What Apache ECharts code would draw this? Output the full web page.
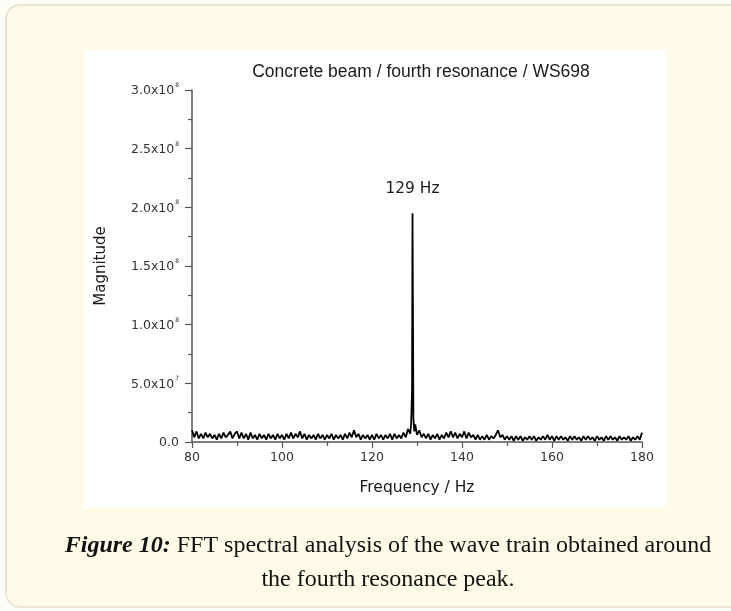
<!DOCTYPE html>
<html>
<head>
<meta charset="utf-8">
<script src="https://cdn.jsdelivr.net/npm/echarts@6/dist/echarts.min.js"></script>
<style>
html,body{margin:0;padding:0;background:#fdfdf8;}
#chart{width:731px;height:611px;}
</style>
</head>
<body>
<div id="chart"></div>
<script>
// ---- data ----
const chartTitle = 'Concrete beam / fourth resonance / WS698';
const xAxisName = 'Frequency / Hz';
const yAxisName = 'Magnitude';
const peakLabel = '129 Hz';
const captionBold = 'Figure 10:';
const captionLine1 = ' FFT spectral analysis of the wave train obtained around';
const captionLine2 = 'the fourth resonance peak.';
const xTicks = [80, 100, 120, 140, 160, 180];
const yTicks = [0, 5e7, 1e8, 1.5e8, 2e8, 2.5e8, 3e8];
const magUnit = 1e6; // magnitudes below are in units of 1e6

const freqHz = [
  80,80.5,81,81.5,82,82.5,83,83.5,84,84.5,
  85,85.5,86,86.5,87,87.5,88,88.5,89,89.5,
  90,90.5,91,91.5,92,92.5,93,93.5,94,94.5,
  95,95.5,96,96.5,97,97.5,98,98.5,99,99.5,
  100,100.5,101,101.5,102,102.5,103,103.5,104,104.5,
  105,105.5,106,106.5,107,107.5,108,108.5,109,109.5,
  110,110.5,111,111.5,112,112.5,113,113.5,114,114.5,
  115,115.5,116,116.5,117,117.5,118,118.5,119,119.5,
  120,120.5,121,121.5,122,122.5,123,123.5,124,124.5,
  125,125.5,126,126.5,127,127.5,128,128.5,128.7,128.9,
  129,129.1,129.2,129.4,129.6,130,130.5,131,131.5,132,
  132.5,133,133.5,134,134.5,135,135.5,136,136.5,137,
  137.5,138,138.5,139,139.5,140,140.5,141,141.5,142,
  142.5,143,143.5,144,144.5,145,145.5,146,146.5,147,
  147.5,148,148.5,149,149.5,150,150.5,151,151.5,152,
  152.5,153,153.5,154,154.5,155,155.5,156,156.5,157,
  157.5,158,158.5,159,159.5,160,160.5,161,161.5,162,
  162.5,163,163.5,164,164.5,165,165.5,166,166.5,167,
  167.5,168,168.5,169,169.5,170,170.5,171,171.5,172,
  172.5,173,173.5,174,174.5,175,175.5,176,176.5,177,
  177.5,178,178.5,179,179.5,180
];
const magnitudeM = [
  10,4,9,3,7,3,8,4,7,3,
  6,2,7,3,8,4,6,9,3,7,
  9,3,8,3,7,2,8,3,6,2,
  7,3,6,2,7,3,6,2,7,3,
  6,2,7,3,8,3,7,4,9,3,
  7,2,6,3,6,2,7,3,6,2,
  6,3,7,2,6,3,6,2,7,3,
  8,4,10,4,7,2,6,3,6,2,
  6,2,7,3,6,2,6,3,7,2,
  7,3,6,3,8,4,11,7,16,44,
  195,111,20,9,15,6,10,4,7,3,
  7,2,6,3,7,2,6,3,8,4,
  9,4,8,3,7,4,9,3,8,4,
  6,2,6,2,5,2,6,2,5,3,
  6,10,4,6,2,5,2,5,1,5,
  2,5,1,4,2,5,2,5,1,4,
  2,5,2,6,2,5,1,5,2,5,
  2,4,1,5,2,5,2,4,1,5,
  2,5,2,4,1,5,2,4,1,5,
  2,5,2,4,1,5,2,4,2,5,
  1,4,2,5,2,8
];

const seriesData = freqHz.map((f, i) => [f, magnitudeM[i] * magUnit]);

const chart = echarts.init(document.getElementById('chart'), null, {renderer: 'canvas'});
const sans = '"DejaVu Sans", Verdana, sans-serif';
const arial = '"Liberation Sans", Arial, sans-serif';
const serif = '"Liberation Serif", "Times New Roman", serif';

function yFmt(v) {
  if (v === 0) return '{m|0.0}';
  const e = Math.floor(Math.log10(v) + 1e-9);
  const m = v / Math.pow(10, e);
  return '{m|' + m.toFixed(1) + 'x10}{s|' + e + '}';
}

chart.setOption({
  backgroundColor: '#fdfdf8',
  animation: false,
  title: {
    text: chartTitle,
    left: 416, top: 58, textAlign: 'center',
    textStyle: {fontSize: 17.5, fontWeight: 'normal', color: '#1a1a1a', fontFamily: arial}
  },
  graphic: [
    {type: 'rect', z: -10, silent: true,
     shape: {x: 6, y: 5, width: 770, height: 602, r: 14},
     style: {fill: '#fffbe8', stroke: '#e8e5d5', lineWidth: 2}},
    {type: 'rect', z: -9, silent: true,
     shape: {x: 84, y: 50, width: 582, height: 457},
     style: {fill: '#ffffff'}},
    {type: 'text', x: 388, y: 558, silent: true,
     style: {text: '{b|' + captionBold + '}{n|' + captionLine1 + '}', textAlign: 'center', textVerticalAlign: 'bottom',
       rich: {
         b: {fontFamily: serif, fontSize: 24, fontWeight: 'bold', fontStyle: 'italic', fill: '#111'},
         n: {fontFamily: serif, fontSize: 24, fill: '#111'}
       }}},
    {type: 'text', x: 388, y: 592, silent: true,
     style: {text: captionLine2, textAlign: 'center', textVerticalAlign: 'bottom',
       fontFamily: serif, fontSize: 24, fill: '#111'}}
  ],
  grid: {left: 192, right: 89, top: 90, bottom: 169, containLabel: false},
  xAxis: {
    type: 'value', min: xTicks[0], max: xTicks[xTicks.length - 1], interval: 20,
    name: xAxisName, nameLocation: 'middle', nameGap: 38,
    nameTextStyle: {fontSize: 15.5, color: '#1a1a1a', fontFamily: sans},
    axisLine: {show: true, onZero: false, lineStyle: {color: '#555', width: 1.5}},
    axisTick: {show: true, inside: false, length: 6, lineStyle: {color: '#555', width: 1.2}},
    minorTick: {show: true, splitNumber: 2, length: 4, lineStyle: {color: '#555', width: 1.2}},
    axisLabel: {fontSize: 12.5, color: '#333', fontFamily: sans, margin: 9},
    splitLine: {show: false}
  },
  yAxis: {
    type: 'value', min: yTicks[0], max: yTicks[yTicks.length - 1], interval: 5e7,
    name: yAxisName, nameLocation: 'middle', nameGap: 83, nameRotate: 90,
    nameTextStyle: {fontSize: 15, color: '#1a1a1a', fontFamily: sans},
    axisLine: {show: true, lineStyle: {color: '#555', width: 1.5}},
    axisTick: {show: true, inside: false, length: 7, lineStyle: {color: '#555', width: 1.2}},
    minorTick: {show: true, splitNumber: 2, length: 4, lineStyle: {color: '#555', width: 1.2}},
    axisLabel: {
      margin: 13, formatter: yFmt, color: '#333',
      rich: {
        m: {fontSize: 12.5, color: '#333', fontFamily: sans, lineHeight: 15, verticalAlign: 'bottom'},
        s: {fontSize: 6, color: '#333', fontFamily: sans, lineHeight: 15, verticalAlign: 'top', padding: [0, 0, 0, 1]}
      }
    },
    splitLine: {show: false}
  },
  series: [{
    type: 'line',
    data: seriesData,
    showSymbol: false,
    symbol: 'none',
    sampling: 'none',
    lineStyle: {color: '#000', width: 1.8},
    clip: true,
    markPoint: {
      symbol: 'circle', symbolSize: 0,
      data: [{type: 'max'}],
      label: {show: true, position: 'top', distance: 17, formatter: peakLabel,
        fontSize: 15.4, color: '#1a1a1a', fontFamily: sans}
    }
  }]
});
</script>
</body>
</html>
